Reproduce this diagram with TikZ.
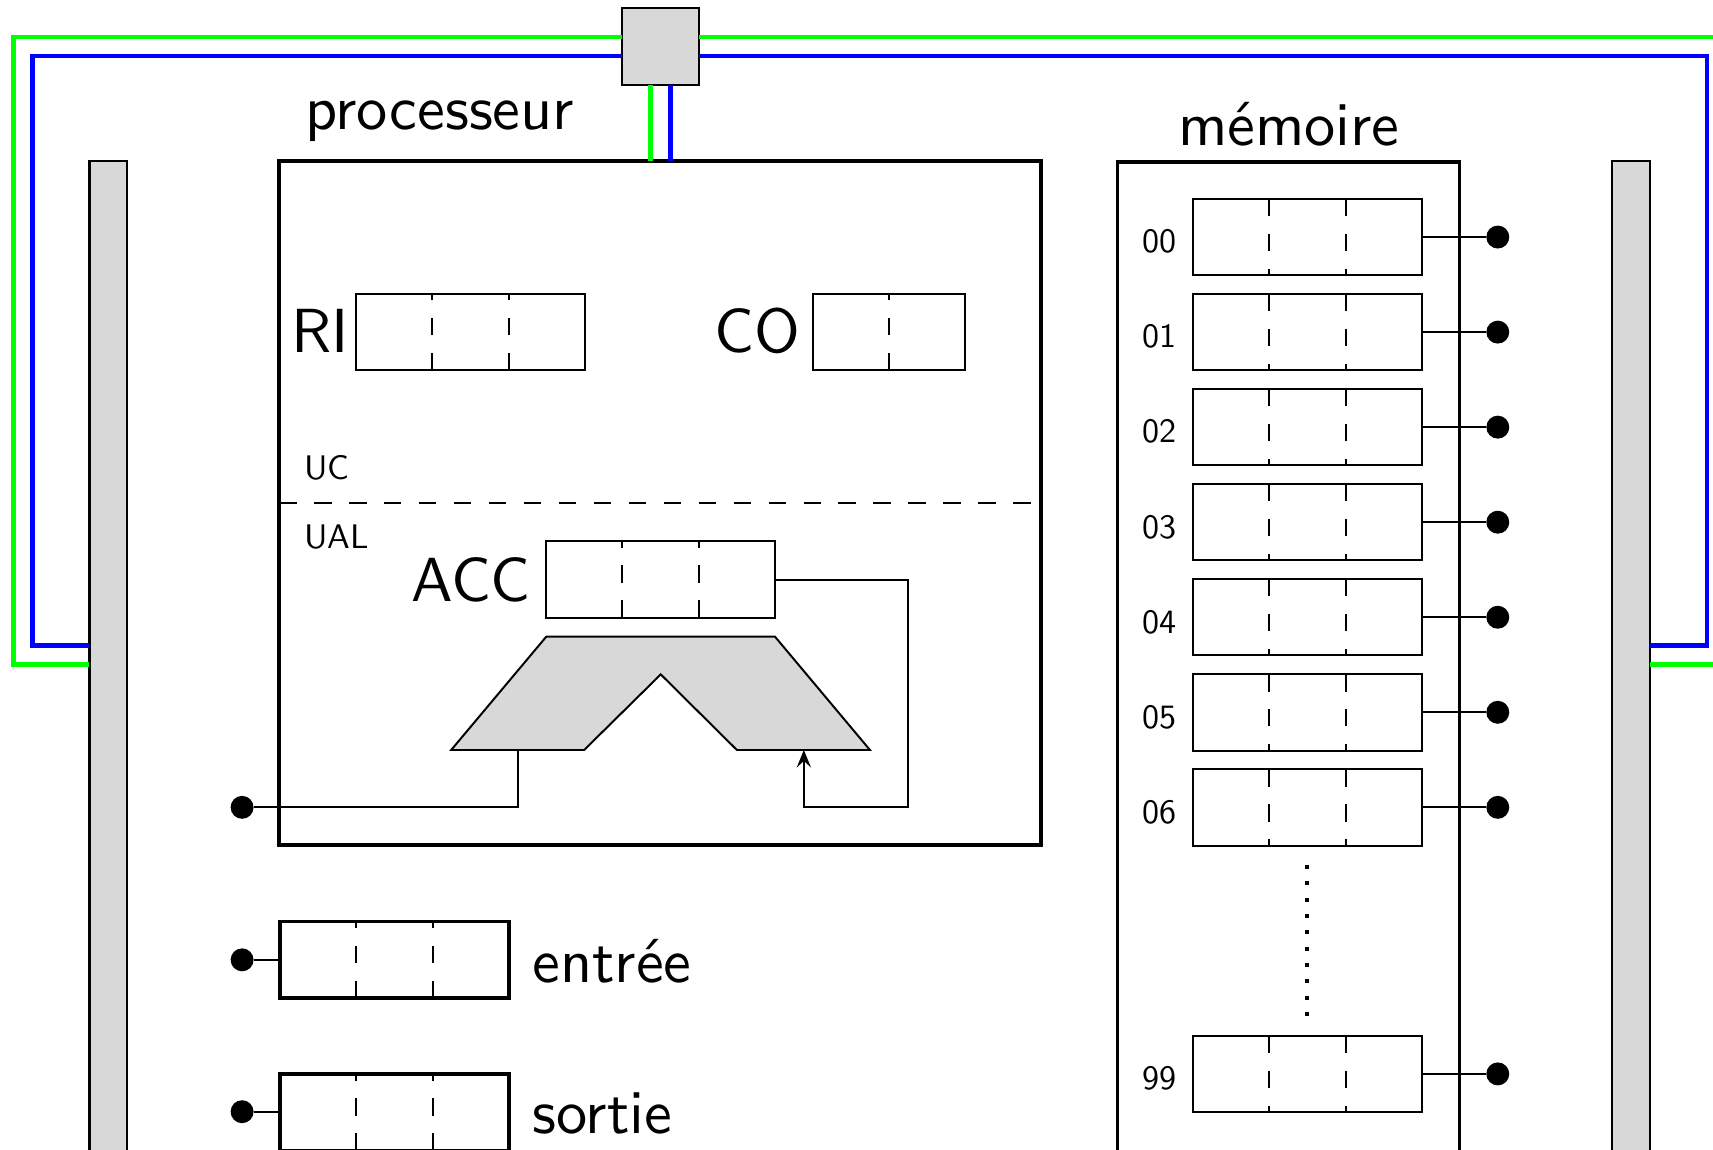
\documentclass[tikz,border=0pt]{standalone}
\usetikzlibrary{calc,arrows.meta}
\definecolor{busgray}{RGB}{216,216,216}
\definecolor{gline}{RGB}{0,255,0}
\definecolor{bline}{RGB}{0,0,255}
\font\bigsf="[lmsans10-regular.otf]" at 28.5pt
\font\smallsf="[lmsans10-regular.otf]" at 15.6pt
\newcommand\divup[2]{\draw[divider] ($(#1.south west)!#2!(#1.south east)$) -- ($(#1.north west)!#2!(#1.north east)$);}
\newcommand\divdown[2]{\draw[divider] ($(#1.north west)!#2!(#1.north east)$) -- ($(#1.south west)!#2!(#1.south east)$);}
\begin{document}
\begin{tikzpicture}[x=0.5pt,y=-0.5pt,
  reg/.style={draw, line width=0.9pt, minimum width=105pt, minimum height=35pt, inner sep=0pt, outer sep=0pt},
  regco/.style={reg, minimum width=69.7pt},
  regio/.style={reg, line width=1.7pt},
  frame/.style={draw, line width=1.7pt, inner sep=0pt, outer sep=0pt, anchor=north west},
  bus/.style={draw, line width=1pt, fill=busgray, inner sep=0pt, outer sep=0pt, minimum width=17.35pt, minimum height=540pt, anchor=north},
  ctrlbox/.style={draw, line width=1pt, fill=busgray, inner sep=0pt, outer sep=0pt, minimum width=35pt, minimum height=35pt},
  divider/.style={line width=0.9pt, dash pattern=on 8pt off 8pt},
  gwire/.style={draw=gline, line width=2pt},
  bwire/.style={draw=bline, line width=2pt},
  wire/.style={draw, line width=0.9pt},
  dot/.style={circle, fill=black, inner sep=0pt, minimum size=10.5pt},
  big/.style={font=\bigsf, inner sep=0pt},
  small/.style={font=\smallsf, inner sep=0pt},
  alu/.style={draw, line width=0.9pt, fill=busgray, line join=miter},
  dotline/.style={line width=1.8pt, dash pattern=on 1.8pt off 5.67pt}
]
\clip (0,0) rectangle (1568,1052);
\fill[white] (0,0) rectangle (1568,1052);

% coordinates for the bus wiring
\coordinate (gT) at (0,33.6);
\coordinate (bT) at (0,51.3);
\coordinate (gB) at (0,608.4);
\coordinate (bB) at (0,591);
\coordinate (gL) at (12.2,0);
\coordinate (bL) at (29.6,0);
\coordinate (gR) at (1600,0);
\coordinate (bR) at (1562.6,0);
\coordinate (gV) at (595.5,0);
\coordinate (bV) at (613.6,0);

% main blocks
\node[frame, minimum width=348.75pt, minimum height=313pt] (proc) at (255.5,147.4) {};
\node[frame, minimum width=156.5pt, minimum height=501pt] (mem) at (1023,148) {};
\node[bus] (lbus) at (99.2,147.4) {};
\node[bus] (rbus) at (1493.2,147.4) {};
\node[ctrlbox] (ctrl) at (604.5,42.7) {};

% bus wires
\draw[gwire] (lbus.west |- gB) -- (gL |- gB) -- (gL |- gT) -- (ctrl.west |- gT);
\draw[gwire] (ctrl.east |- gT) -- (gR |- gT) -- (gR |- gB) -- (rbus.east |- gB);
\draw[bwire] (lbus.west |- bB) -- (bL |- bB) -- (bL |- bT) -- (ctrl.west |- bT);
\draw[bwire] (ctrl.east |- bT) -- (bR |- bT) -- (bR |- bB) -- (rbus.east |- bB);
\draw[gwire] (gV |- ctrl.south) -- (gV |- proc.north);
\draw[bwire] (bV |- ctrl.south) -- (bV |- proc.north);

% titles
\node[big, anchor=base west] (tproc) at (279,119) {processeur};
\node[big, anchor=base west] (tmem) at (1078,133) {mémoire};

% control unit
\node[reg] (ri) at (430.5,304) {};
\divup{ri}{1/3}\divup{ri}{2/3}
\node[big, anchor=base west] (tri) at (266.5,323) {RI};
\node[regco] (co) at (813.6,304) {};
\divup{co}{1/2}
\node[big, anchor=base west] (tco) at (654,323) {CO};
\node[small, anchor=base west] (tuc) at (278,439) {UC};
\coordinate (sep) at (0,460.6);
\draw[line width=0.9pt, dash pattern=on 8pt off 8pt] (proc.west |- sep) -- (proc.east |- sep);
\node[small, anchor=base west] (tual) at (278,502) {UAL};

% ALU
\node[reg] (acc) at (604.7,530.6) {};
\divup{acc}{1/3}\divup{acc}{2/3}
\node[big, anchor=base west] (tacc) at (376,550.5) {ACC};
\draw[alu] (413,686.5) -- (500,582.8) -- (709.4,582.8) -- (796.3,686.5) -- (674.5,686.5) -- (604.8,617.3) -- (534.7,686.5) -- cycle;
\coordinate (aluA) at (474.4,686.5);
\coordinate (aluB) at (735.8,686.5);
\coordinate (accturn) at (831,739);
\draw[wire, -{Stealth[length=8pt,width=6.5pt,inset=3pt]}] (acc.east) -| (accturn) -| (aluB);
\node[dot] (pdot) at (221.6,739) {};
\draw[wire] (aluA) |- (pdot);

% input / output
\node[regio] (entree) at (361,878.6) {};
\divup{entree}{1/3}\divup{entree}{2/3}
\node[dot] (edot) at (221.6,878.6) {};
\draw[wire] (edot) -- (entree.west);
\node[big, anchor=base west] (tentree) at (487,899) {entrée};
\node[regio] (sortie) at (361,1018.2) {};
\divup{sortie}{1/3}\divup{sortie}{2/3}
\node[dot] (sdot) at (221.6,1017.6) {};
\draw[wire] (sdot) -- (sdot -| sortie.west);
\node[big, anchor=base west] (tsortie) at (487,1038) {sortie};

% memory cells
\foreach \lab/\yy [count=\i] in {00/217,01/304,02/391,03/478,04/565,05/652,06/739,99/983} {
  \node[reg] (m\i) at (1196.9,\yy) {};
  \divdown{m\i}{1/3}\divdown{m\i}{2/3}
  \node[dot] (md\i) at (1371,\yy) {};
  \draw[wire] (m\i.east) -- (md\i);
  \node[small, anchor=base east] (ml\i) at ($(m\i.west)+(-7.1pt,-7.25pt)$) {\lab};
}
\draw[dotline] (1196.6,791.8) -- (1196.6,931);
\end{tikzpicture}
\end{document}
